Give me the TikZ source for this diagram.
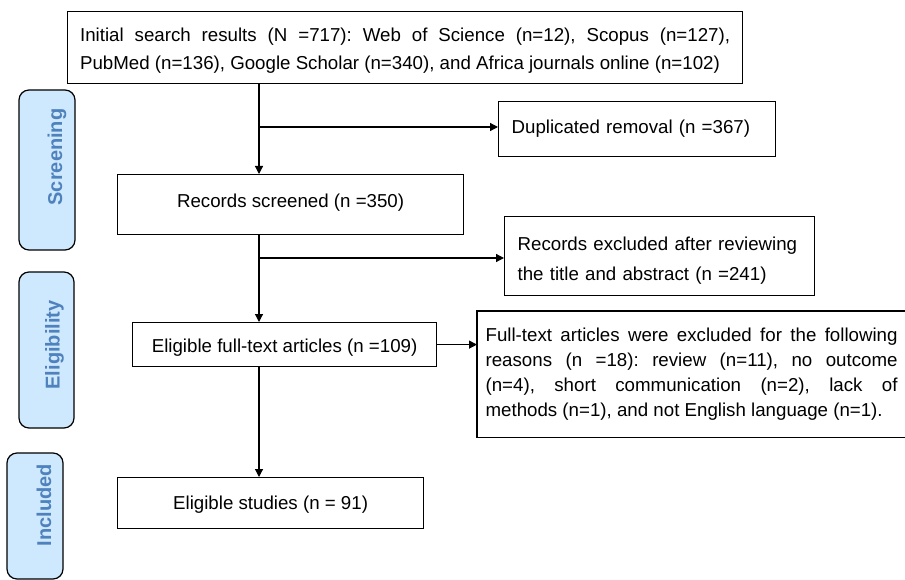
\documentclass[tikz,border=0pt]{standalone}
\usepackage{fontspec}
\setmainfont{Liberation Sans}
\usetikzlibrary{arrows.meta,calc}

\definecolor{phasefill}{RGB}{206,233,253}
\definecolor{phasetext}{RGB}{79,129,189}

\tikzset{
  box/.style={draw, line width=1.2pt, anchor=north west, inner ysep=0pt,
    font=\fontsize{18.7}{25}\selectfont},
  phase/.style={draw, line width=1.2pt, rounded corners=10pt, fill=phasefill,
    rotate=90, inner sep=0pt},
  phaselabel/.style={rotate=90, text=phasetext,
    font=\fontsize{20}{20}\selectfont\bfseries},
  link/.style={line width=1.2pt},
  arr/.style={line width=1.2pt, -{Triangle[length=8pt,width=8pt]}}
}

\begin{document}
\frenchspacing
\hyphenpenalty=10000
\begin{tikzpicture}[x=1pt,y=-1pt]
 \useasboundingbox (0,0) rectangle (905,580);

 % phase bars
 \node[phase, minimum width=160, minimum height=56] (screening) at (47,170) {};
 \node[phaselabel] at ($(screening.center)+(10,-13)$) {Screening};
 \node[phase, minimum width=156, minimum height=55] (eligibility) at (46.5,350) {};
 \node[phaselabel] at ($(eligibility.center)+(8,-5)$) {Eligibility};
 \node[phase, minimum width=126, minimum height=56] (included) at (35,516) {};
 \node[phaselabel] at ($(included.center)+(9,-11)$) {Included};

 % boxes
 \node[box, text width=650pt, inner xsep=12.5pt, minimum height=72pt,
   text height=19.5pt, align=justify, font=\fontsize{18.7}{28}\selectfont]
  (search) at (67,11)
  {Initial search results (N =717): Web of Science (n=12), Scopus (n=127),\linebreak
   PubMed (n=136), Google Scholar (n=340), and Africa journals online (n=102)};
 \node[box, text width=251pt, inner xsep=13pt, minimum height=55pt, align=left]
  (dup) at (498,101) {Duplicated removal (n =367)};
 \node[box, minimum width=346pt, minimum height=60pt, text depth=8.5pt]
  (screened) at (117,174) {Records screened (n =350)};
 \node[box, text width=284pt, inner xsep=13pt, minimum height=79pt,
   text height=23.5pt, align=left, font=\fontsize{18.7}{30}\selectfont]
  (excl) at (504,216)
  {Records excluded after reviewing\\ the title and abstract (n =241)};
 \node[box, minimum width=304pt, minimum height=44pt, text height=19.5pt]
  (elig) at (132,322) {Eligible full-text articles (n =109)};
 \node[box, draw=none, text width=412pt, inner xsep=8pt, minimum height=125pt,
   align=justify] (fulltext) at (477,311)
  {Full-text articles were excluded for the following\linebreak
   reasons (n =18): review (n=11), no outcome\linebreak
   (n=4), short communication (n=2), lack of\linebreak
   methods (n=1), and not English language (n=1).};
 \draw[link] (fulltext.north east) -- (fulltext.north west)
   -- (fulltext.south west) -- (fulltext.south east);
 \node[box, minimum width=306pt, minimum height=51pt, text height=17.5pt]
  (studies) at (117,477) {Eligible studies (n = 91)};

 % connectors
 \coordinate (j1) at (259,127);
 \coordinate (j2) at (259,258);
 \draw[link] (search.south -| j1) -- (j1);
 \draw[arr] (j1) -- (screened.north -| j1);
 \draw[arr] (j1) -- (j1 -| dup.west);
 \draw[link] (screened.south -| j2) -- (j2);
 \draw[arr] (j2) -- (elig.north -| j2);
 \draw[arr] (j2) -- (j2 -| excl.west);
 \draw[arr] (elig.east) -- (elig.east -| fulltext.west);
 \draw[arr] (elig.south -| j1) -- (studies.north -| j1);
\end{tikzpicture}
\end{document}
